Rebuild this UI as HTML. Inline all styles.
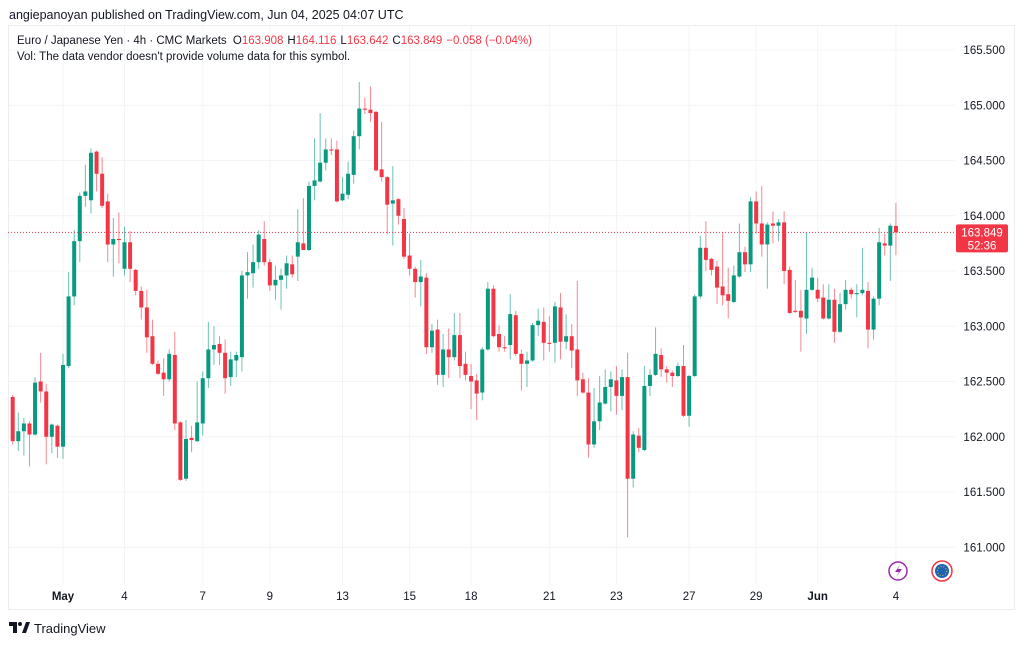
<!DOCTYPE html>
<html><head><meta charset="utf-8"><style>
body{margin:0;background:#fff;width:1024px;height:642px;overflow:hidden;font-family:"Liberation Sans",sans-serif}
svg text{font-family:"Liberation Sans",sans-serif}
</style></head><body>
<svg id="chart" width="1024" height="642" viewBox="0 0 1024 642" xmlns="http://www.w3.org/2000/svg">
<rect x="0" y="0" width="1024" height="642" fill="#fff"/>
<text x="9" y="19" font-size="12.5" fill="#131722">angiepanoyan published on TradingView.com, Jun 04, 2025 04:07 UTC</text>
<rect x="8.5" y="25.5" width="1006" height="584" fill="none" stroke="#ecedf0"/>
<g id="grid"></g>
<text x="17" y="44" font-size="11.5" fill="#131722">Euro / Japanese Yen · 4h · CMC Markets <tspan dx="3">O</tspan><tspan fill="#f23645">163.908</tspan><tspan dx="4">H</tspan><tspan fill="#f23645">164.116</tspan><tspan dx="4">L</tspan><tspan fill="#f23645">163.642</tspan><tspan dx="4">C</tspan><tspan fill="#f23645">163.849</tspan><tspan dx="4" fill="#f23645">−0.058 (−0.04%)</tspan></text>
<text x="17" y="60" font-size="11.5" fill="#131722">Vol: The data vendor doesn't provide volume data for this symbol.</text>
<g id="candles"></g>
<g id="yaxis"></g>
<g id="xaxis"></g>
<line id="lastline" x1="8" x2="955" stroke="#f23645" stroke-width="1" stroke-dasharray="1,2"/>
<g>
<rect id="lastbox" x="956" width="52" height="28" rx="2" fill="#f23645"/>
<text id="lasttxt" x="982" font-size="11.5" fill="#fff" text-anchor="middle">163.849</text>
<text id="lasttime" x="982" font-size="11.5" fill="#fff" text-anchor="middle">52:36</text>
</g>
<g><circle cx="898" cy="571" r="9" fill="#fff" stroke="#9c27b0" stroke-width="1.5"/><path d="M900 565 L895 572 L899 572 L896 577 L902 569 L898 569 Z" fill="#9c27b0"/></g>
<g><circle cx="942" cy="571" r="10" fill="#fff" stroke="#f23645" stroke-width="1.5"/><circle cx="942" cy="571" r="7" fill="#1d63b4"/><circle cx="942" cy="571" r="4.5" fill="none" stroke="#e8c53a" stroke-width="1" stroke-dasharray="1,1.8"/></g>
<g><path d="M9 622 h8 v11 h-4 v-7 h-4 z" fill="#131722"/><circle cx="20" cy="624" r="2" fill="#131722"/><path d="M22 633 l4 -11 h4 l-4 11 z" fill="#131722"/><text x="34" y="633" font-size="13" fill="#131722">TradingView</text></g>
</svg>
<script>
const opens=[162.36,161.96,162.05,162.12,162.02,162.50,162.41,162.00,162.10,161.91,162.64,163.27,163.77,164.18,164.14,164.58,164.38,164.13,163.74,163.79,163.52,163.76,163.51,163.32,163.17,162.91,162.66,162.58,162.52,162.74,162.13,161.62,161.99,161.96,162.12,162.53,162.79,162.84,162.76,162.54,162.69,162.72,163.46,163.48,163.58,163.79,163.58,163.37,163.42,163.46,163.56,163.63,163.75,163.69,164.27,164.31,164.48,164.60,164.60,164.14,164.19,164.37,164.72,164.97,164.96,164.94,164.42,164.35,164.11,164.15,163.97,163.64,163.52,163.40,163.44,162.81,162.97,162.56,162.79,162.72,162.92,162.66,162.55,162.51,162.40,162.79,163.34,162.93,162.81,162.83,163.10,162.75,162.66,162.69,163.01,163.04,162.85,162.85,163.17,162.86,162.91,162.79,162.52,162.40,161.93,162.14,162.30,162.45,162.51,162.37,162.54,161.62,162.01,161.88,162.46,162.56,162.74,162.61,162.58,162.55,162.64,162.19,162.55,163.27,163.71,163.61,163.54,163.36,163.29,163.22,163.45,163.67,163.56,164.13,163.93,163.74,163.93,163.91,163.94,163.51,163.14,163.14,163.07,163.33,163.33,163.26,163.07,163.24,162.95,163.20,163.33,163.29,163.30,163.32,162.97,163.25,163.75,163.73,163.908];
const highs=[162.38,162.22,162.17,162.14,162.54,162.76,162.48,162.12,162.11,162.75,163.49,163.87,164.21,164.46,164.61,164.59,164.53,164.20,163.98,164.03,163.90,163.86,163.52,163.36,163.33,163.06,162.69,162.71,162.79,162.95,162.14,162.15,162.10,162.50,162.59,163.04,163.00,162.91,162.88,162.77,162.77,163.50,163.67,163.74,163.87,163.95,163.61,163.55,163.52,163.64,163.64,164.06,164.16,164.31,164.70,164.93,164.70,164.70,164.68,164.35,164.49,164.77,165.21,165.07,165.17,164.95,164.85,164.36,164.45,164.16,164.07,163.84,163.54,163.60,163.48,163.02,163.06,162.93,162.98,163.12,163.12,162.77,162.66,162.57,162.81,163.40,163.37,163.01,162.91,163.29,163.14,162.79,162.77,163.03,163.16,163.17,163.09,163.22,163.30,163.11,163.02,163.41,162.58,162.53,162.44,162.55,162.61,162.59,162.64,162.61,162.76,162.05,162.08,162.64,162.61,162.99,162.80,162.64,162.60,162.67,162.83,162.56,163.29,163.82,163.95,163.62,163.59,163.85,163.53,163.55,163.93,163.72,164.17,164.22,164.27,163.94,164.04,163.97,164.04,163.54,163.42,163.33,163.85,163.53,163.44,163.38,163.38,163.34,163.30,163.42,163.35,163.38,163.71,163.40,163.27,163.89,163.84,163.93,164.116];
const lows=[161.93,161.87,161.83,161.73,162.01,162.31,161.75,161.85,161.81,161.80,162.62,163.19,163.58,164.08,164.02,164.22,164.07,163.58,163.45,163.57,163.46,163.40,163.28,163.06,162.76,162.65,162.56,162.37,162.50,162.06,161.60,161.60,161.86,161.95,162.01,162.44,162.65,162.65,162.39,162.46,162.54,162.59,163.25,163.35,163.52,163.55,163.32,163.24,163.15,163.34,163.44,163.41,163.69,163.68,164.14,164.30,164.41,164.55,164.12,164.13,164.15,164.29,164.60,164.92,164.85,164.40,164.31,163.83,163.73,163.92,163.61,163.46,163.26,163.18,162.75,162.76,162.47,162.45,162.53,162.69,162.53,162.51,162.25,162.15,162.33,162.78,162.90,162.77,162.77,162.70,162.73,162.42,162.45,162.68,162.91,162.69,162.77,162.67,162.70,162.79,162.62,162.37,162.39,161.81,161.90,162.06,162.29,162.23,162.20,162.24,161.09,161.54,161.86,161.87,162.37,162.55,162.54,162.49,162.45,162.54,162.18,162.09,162.54,163.25,163.50,163.46,163.20,163.19,163.07,163.21,163.44,163.49,163.49,163.84,163.63,163.34,163.75,163.77,163.38,163.11,163.12,162.77,162.93,163.32,163.22,163.06,163.06,162.85,162.94,163.15,163.25,163.08,163.28,162.80,162.88,163.19,163.64,163.41,163.642];
const closes=[161.96,162.05,162.12,162.02,162.49,162.41,162.00,162.11,161.91,162.65,163.27,163.77,164.18,164.22,164.57,164.38,164.09,163.74,163.79,163.78,163.76,163.52,163.32,163.17,162.90,162.66,162.57,162.52,162.75,162.12,161.61,161.98,161.97,162.13,162.53,162.79,162.83,162.76,162.53,162.70,162.74,163.46,163.49,163.58,163.83,163.58,163.37,163.42,163.46,163.57,163.47,163.76,163.69,164.27,164.32,164.48,164.60,164.59,164.13,164.20,164.38,164.72,164.97,164.96,164.93,164.41,164.35,164.10,164.14,164.00,163.63,163.52,163.40,163.45,162.81,162.96,162.56,162.79,162.72,162.92,162.64,162.56,162.50,162.39,162.79,163.34,162.91,162.81,162.80,163.11,162.75,162.66,162.69,163.01,163.05,162.85,162.84,163.18,162.86,162.91,162.78,162.51,162.40,161.93,162.14,162.31,162.45,162.52,162.37,162.54,161.62,162.02,161.90,162.46,162.56,162.75,162.61,162.58,162.55,162.64,162.19,162.55,163.27,163.71,163.60,163.51,163.35,163.28,163.23,163.46,163.67,163.56,164.13,163.93,163.74,163.92,163.91,163.94,163.50,163.12,163.13,163.08,163.33,163.44,163.25,163.07,163.24,162.95,163.20,163.33,163.29,163.30,163.33,162.97,163.25,163.76,163.73,163.91,163.849];
const yTicks=[165.5,165.0,164.5,164.0,163.5,163.0,162.5,162.0,161.5,161.0];
const xLabels=["May","4","7","9","13","15","18","21","23","27","29","Jun","4"];
const xLabelIdx=[9,20,34,46,59,71,82,96,108,121,133,144,158];

const NS="http://www.w3.org/2000/svg";
const y=p=>50+(165.5-p)*110.5;
const x=i=>12.7+i*5.59;
function mk(tag,attrs,parent){const e=document.createElementNS(NS,tag);for(const k in attrs)e.setAttribute(k,attrs[k]);parent.appendChild(e);return e;}
const grid=document.getElementById('grid'),yax=document.getElementById('yaxis'),xax=document.getElementById('xaxis'),cg=document.getElementById('candles');
yTicks.forEach(t=>{
  const l=mk('line',{x1:9,x2:955,y1:y(t),y2:y(t),stroke:'#f3f4f6'},grid);
  
  
  const tx=mk('text',{x:1005,y:y(t)+4,'font-size':11.5,fill:'#131722','text-anchor':'end'},yax);
  tx.textContent=t.toFixed(3);
  
  
});
xLabels.forEach((s,k)=>{
  const xx=x(xLabelIdx[k]);
  const l=mk('line',{x1:xx,x2:xx,y1:26,y2:585,stroke:'#f3f4f6'},grid);
  
  
  const tx=mk('text',{x:xx,y:600,'font-size':11.5,fill:'#131722','text-anchor':'middle','font-weight':(s==='May'||s==='Jun')?'bold':'normal'},xax);
  tx.textContent=s;
  
  
});
for(let i=0;i<closes.length;i++){
  const up=closes[i]>=opens[i];const col=up?'#089981':'#f23645';
  const g=mk('g',{},cg);
  
  
  mk('line',{x1:x(i),x2:x(i),y1:y(highs[i]),y2:y(lows[i]),stroke:col,'stroke-width':1,'stroke-opacity':0.6},g);
  const top=y(Math.max(opens[i],closes[i])),bot=y(Math.min(opens[i],closes[i]));
  mk('rect',{x:x(i)-2,y:top,width:4,height:Math.max(1,bot-top),fill:col},g);
}
const lc=closes[closes.length-1],ly=y(lc);
const ll=document.getElementById('lastline');ll.setAttribute('y1',ly);ll.setAttribute('y2',ly);
document.getElementById('lastbox').setAttribute('y',ly-8);
document.getElementById('lasttxt').setAttribute('y',ly+4);
document.getElementById('lasttxt').textContent=lc.toFixed(3);
document.getElementById('lasttime').setAttribute('y',ly+17);
</script>
</body></html>
